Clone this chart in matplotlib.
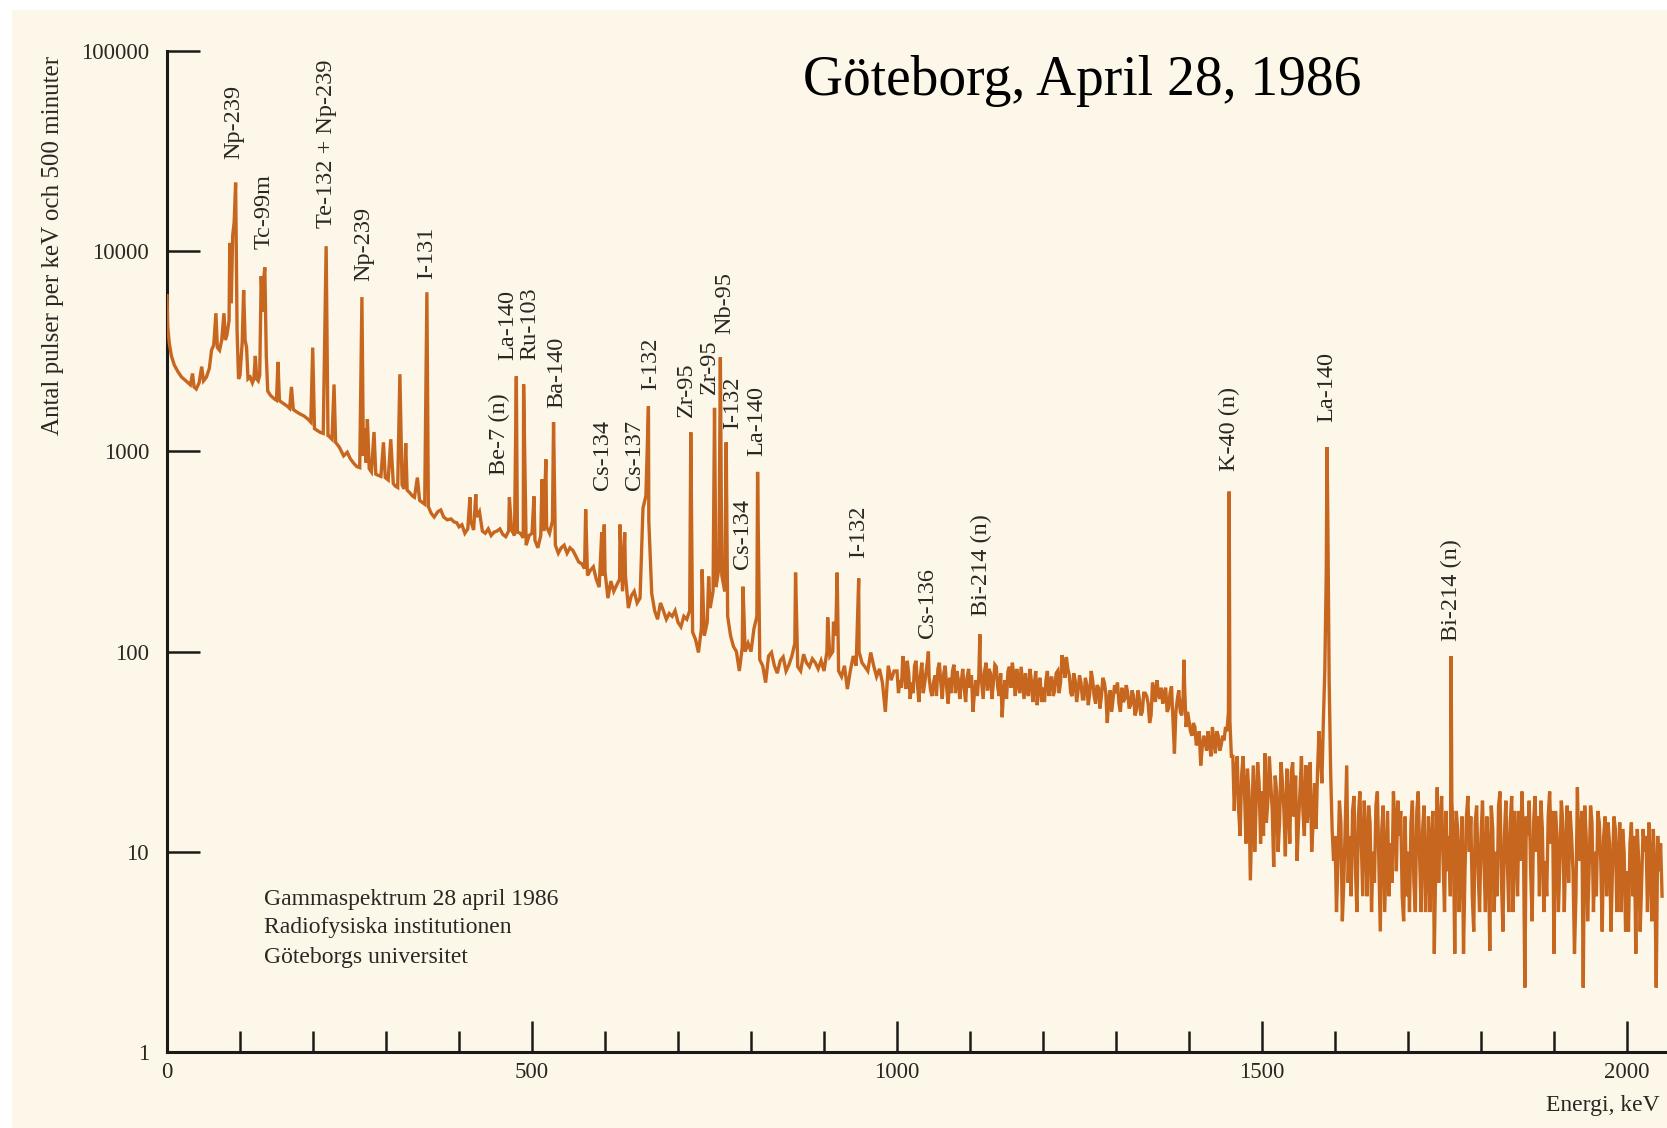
import numpy as np
import matplotlib
matplotlib.use("Agg")
import matplotlib.pyplot as plt
from matplotlib.ticker import NullLocator
from matplotlib.patches import Rectangle

plt.rcParams['font.family'] = ['Liberation Serif', 'DejaVu Serif']

# ---------------- data ----------------
# Low-energy part of the spectrum (keV, counts per keV), peaks included
low_kev = [0, 1, 3, 6, 10, 15, 20, 26, 32, 35, 37, 40, 44, 47.5, 50, 54, 58, 61, 64, 67,
           69, 72, 75, 78, 80, 82, 85, 86, 88, 90, 92, 94, 96, 98, 100, 103, 105, 107, 109, 111,
           114, 117, 119, 121, 123, 125, 127, 129, 131, 132, 134, 136, 138, 142, 147, 150, 152, 154, 156, 161,
           165, 168, 170.5, 173, 177, 182, 188, 193, 197, 199.6, 202, 206, 210, 214, 218, 220.5, 222, 226, 228.8, 231,
           236, 242, 247, 251, 256, 260, 264, 267, 269, 271, 272.5, 274.5, 277, 280, 283.6, 286, 289, 293, 296.5, 299,
           303, 306.5, 310, 313, 316, 319, 322, 325, 327, 329, 332, 336, 339, 343, 346, 350, 353, 356, 358, 362,
           366, 371, 375, 379, 384, 389, 393, 397]
low_counts = [6000, 4200, 3500, 3000, 2700, 2500, 2350, 2250, 2150, 2450, 2100, 2050, 2200, 2650, 2250, 2350, 2600, 3200, 3400, 4900,
              3300, 3200, 3600, 4900, 3600, 3800, 4500, 11000, 5500, 12000, 14000, 22000, 4000, 2300, 2400, 3500, 6400, 3600, 3300, 2300,
              2350, 2200, 2300, 3000, 2300, 2250, 2400, 7500, 5000, 7000, 8300, 3000, 2000, 1900, 1830, 1800, 2800, 1800, 1770, 1720,
              1680, 1640, 2100, 1620, 1580, 1540, 1500, 1450, 1400, 3300, 1300, 1270, 1245, 1230, 10600, 1200, 1190, 1150, 2160, 1110,
              1050, 950, 990, 920, 870, 840, 830, 5900, 950, 1300, 880, 1450, 820, 790, 1250, 770, 760, 750, 1110, 740,
              720, 1150, 690, 670, 660, 2430, 680, 650, 1100, 640, 625, 600, 590, 740, 570, 555, 545, 6240, 530, 490,
              470, 500, 510, 470, 455, 460, 445, 440]

# 400-2048 keV continuum on 4 keV channels (one row per 100 keV)
grid_start_kev = 400
grid_step_kev = 4
grid_counts = [
    420, 430, 390, 410, 450, 405, 470, 500, 400, 390, 410, 380, 395, 400, 410, 385, 375, 400, 405, 380, 395, 390, 370, 340, 380,
    390, 360, 330, 380, 400, 420, 390, 450, 340, 310, 330, 340, 310, 330, 320, 300, 280, 275, 260, 240, 255, 265, 230, 210, 240,
    250, 185, 225, 200, 215, 230, 200, 240, 165, 190, 200, 175, 185, 520, 600, 450, 195, 160, 145, 175, 160, 145, 155, 150, 160,
    140, 133, 150, 145, 160, 125, 115, 99, 130, 120, 140, 165, 200, 210, 260, 240, 200, 150, 120, 106, 100, 80, 105, 100, 110,
    100, 130, 150, 91, 85, 70, 95, 99, 85, 78, 90, 94, 80, 86, 95, 110, 84, 80, 97, 88, 84, 92, 88, 82, 90,
    80, 100, 95, 100, 120, 80, 75, 85, 65, 80, 95, 85, 100, 88, 84, 80, 99, 85, 75, 82, 70, 50, 85, 72, 80,
    80, 72, 95, 65, 78, 70, 85, 68, 76, 62, 80, 74, 60, 76, 82, 70, 78, 66, 74, 80, 62, 72, 70, 66, 74,
    66, 50, 72, 75, 70, 80, 64, 78, 70, 84, 60, 47, 72, 80, 66, 75, 82, 62, 70, 78, 60, 72, 68, 54, 74,
    66, 72, 60, 75, 64, 80, 70, 88, 94, 76, 60, 72, 64, 70, 58, 68, 62, 72, 55, 66, 60, 70, 44, 64, 58,
    62, 55, 66, 58, 62, 54, 60, 51, 58, 50, 62, 55, 48, 64, 72, 58, 55, 66, 52, 67, 31, 58, 50, 60, 42,
    45, 38, 42, 36, 27, 38, 32, 35, 42, 31, 38, 34, 36, 40, 45, 30, 26, 16, 24, 20, 26, 7.2, 27, 18, 22,
    20, 31, 18, 22, 8.4, 20, 14, 22, 9.5, 18, 25, 15, 9, 20, 16, 27, 18, 10, 22, 25, 30, 45, 250, 70, 13,
    12, 9, 14, 7, 27, 12, 16, 8, 15, 11, 18, 6, 14, 10, 17, 9, 13, 5, 16, 11, 20, 8, 12, 6, 15,
    10, 14, 7, 16, 9, 13, 5, 15, 11, 3.1, 21, 14, 9, 16, 12, 18, 3.1, 13, 9, 3.1, 15, 10, 6, 14, 8,
    12, 9, 15, 3.2, 13, 10, 17, 7, 12, 9, 14, 5, 11, 16, 20, 2.1, 12, 8, 14, 10, 6, 13, 9, 15, 11,
    3.1, 12, 9, 14, 10, 7, 12, 3.1, 21, 11, 2.1, 12, 8, 14, 10, 16, 9, 12, 6, 11, 8, 13, 9, 5, 10,
    8, 11, 6, 3.1, 9, 7, 10, 5, 9, 13, 2.1, 8, 6,
]

# 1002-2046 keV: the in-between channels of the noisy high-energy part
mid_start_kev = 1002
mid_counts = [
    62, 66, 80, 90, 58, 62, 90, 56, 88, 70, 92, 64, 70, 60, 88, 58, 85, 55, 62, 86, 80, 58, 82, 56, 82,
    76, 62, 60, 85, 58, 88, 82, 58, 86, 66, 78, 64, 58, 84, 88, 60, 70, 84, 58, 64, 82, 56, 80, 70, 56,
    56, 80, 72, 60, 78, 62, 96, 74, 82, 62, 78, 56, 76, 58, 74, 54, 80, 60, 68, 52, 74, 62, 58, 50, 68,
    70, 50, 56, 68, 52, 64, 48, 64, 48, 62, 60, 44, 70, 56, 62, 66, 62, 50, 62, 46, 50, 64, 48, 66, 50,
    40, 44, 34, 40, 33, 36, 40, 30, 36, 40, 32, 38, 42, 50, 30, 16, 30, 12, 30, 11, 20, 14, 10, 28, 11,
    12, 14, 30, 16, 24, 10, 28, 16, 26, 11, 28, 24, 14, 30, 12, 14, 28, 14, 13, 40, 22, 80, 500, 25, 9,
    5, 18, 4.5, 14, 7, 6, 19, 5, 20, 6, 12, 17, 5, 7, 20, 4, 17, 9, 6, 7, 14, 18, 16, 4.5, 6,
    5, 18, 5, 20, 5, 17, 8, 5, 16, 9, 7, 19, 5, 8, 6, 12, 16, 5, 15, 8, 19, 15, 4, 17, 5,
    18, 5, 10, 17, 5, 6, 20, 4, 18, 5, 19, 16, 6, 9, 12, 15, 18, 4.5, 19, 15, 18, 5, 6, 20, 16,
    16, 5, 18, 5, 17, 16, 8, 6, 9, 16, 17, 4.5, 17, 5, 6, 14, 4, 15, 14, 4, 15, 5, 14, 13, 4,
    4, 14, 12, 13, 4, 13, 12, 14, 4.5, 8, 12, 11,
]

# Peaks above 400 keV (keV, top counts)
peak_kev = [415, 423, 469, 478.5, 488.5, 502.7, 513.7, 519, 529.5, 573.5, 595.5, 599, 620.5, 627, 659.5,
            717.5, 733, 742, 750, 758, 766, 789, 809, 861, 905, 913, 918, 947.5, 1043, 1113.5, 1393,
            1455, 1589, 1759]
peak_counts = [590, 610, 590, 2370, 2160, 596, 725, 912, 1400, 513, 394, 431, 431, 394, 1680,
               1245, 257, 237, 1650, 2950, 1110, 211, 790, 248, 148, 141, 248, 232, 100, 122, 91,
               630, 1050, 95]

# Nuclide labels
label_text = ['Np-239', 'Tc-99m', 'Te-132 + Np-239', 'Np-239', 'I-131', 'Be-7 (n)', 'La-140', 'Ru-103',
              'Ba-140', 'Cs-134', 'Cs-137', 'I-132', 'Zr-95', 'Zr-95', 'Nb-95', 'I-132', 'La-140',
              'Cs-134', 'I-132', 'Cs-136', 'Bi-214 (n)', 'K-40 (n)', 'La-140', 'Bi-214 (n)']
label_kev = [92, 133, 219, 270, 355, 456, 467, 497, 534, 597, 641, 663, 712, 743, 764, 775, 808,
             788, 947, 1042, 1115, 1455, 1589, 1760]
label_counts = [28800, 10200, 13000, 7080, 7240, 760, 2850, 2850, 1640, 640, 640, 2020, 1480, 1930,
                3850, 1290, 945, 260, 295, 117, 150, 800, 1400, 113]

y_ticks = [1, 10, 100, 1000, 10000, 100000]
y_tick_labels = ['1', '10', '100', '1000', '10000', '100000']
x_major = [0, 500, 1000, 1500, 2000]
x_minor = [100, 200, 300, 400, 600, 700, 800, 900, 1100, 1200, 1300, 1400,
           1600, 1700, 1800, 1900]

# ---------------- assemble spectrum ----------------
grid_kev = grid_start_kev + grid_step_kev * np.arange(len(grid_counts))
mid_kev = mid_start_kev + grid_step_kev * np.arange(len(mid_counts))
all_kev = np.concatenate([low_kev, grid_kev, mid_kev, peak_kev])
all_counts = np.concatenate([low_counts, grid_counts, mid_counts, peak_counts])
order = np.argsort(all_kev, kind='stable')
spec_kev = all_kev[order]
spec_counts = all_counts[order]

# ---------------- figure ----------------
CREAM = '#FCF7E8'
LINE = '#C7671F'
INK = '#2a2622'
AXC = '#1c1a18'

W, H = 1667, 1128
fig = plt.figure(figsize=(W / 100, H / 100), dpi=100, facecolor='white')
fig.patches.append(Rectangle((12 / W, 0), 1, 1 - 10 / H, transform=fig.transFigure,
                             facecolor=CREAM, edgecolor='none', zorder=-10))

ax = fig.add_axes([167 / W, 76 / H, (1665 - 167) / W, (1077 - 76) / H])
ax.set_facecolor('none')
ax.set_yscale('log')
ax.set_xlim(0, 2052)
ax.set_ylim(1, 100000)

ax.plot(spec_kev, spec_counts, color=LINE, lw=2.4, solid_joinstyle='miter', zorder=3)

for s in ['top', 'right']:
    ax.spines[s].set_visible(False)
for s in ['left', 'bottom']:
    ax.spines[s].set_linewidth(2.2)
    ax.spines[s].set_color(AXC)

ax.set_yticks(y_ticks)
ax.set_yticklabels(y_tick_labels)
ax.yaxis.set_minor_locator(NullLocator())
ax.set_xticks(x_major)
ax.set_xticks(x_minor, minor=True)
ax.set_xticklabels([str(v) for v in x_major])

ax.tick_params(axis='y', which='major', direction='in', length=24, width=1.8,
               pad=13, labelsize=16.5, colors=AXC, labelcolor=INK)
ax.tick_params(axis='x', which='major', direction='in', length=22, width=1.8,
               pad=7, labelsize=16.5, colors=AXC, labelcolor=INK)
ax.tick_params(axis='x', which='minor', direction='in', length=15, width=1.8,
               colors=AXC)

for t, xk, yc in zip(label_text, label_kev, label_counts):
    ax.text(xk, yc, t, rotation=90, ha='center', va='bottom', fontsize=17.5, color=INK, zorder=4)

fig.text(53 / W, 1 - 245 / H, 'Antal pulser per keV och 500 minuter', rotation=90,
         ha='center', va='center', fontsize=18, color=INK)
fig.text(1660 / W, 1 - 1105 / H, 'Energi, keV', ha='right', va='center', fontsize=17, color=INK)

for i, line in enumerate(['Gammaspektrum 28 april 1986', 'Radiofysiska institutionen',
                          'Göteborgs universitet']):
    fig.text(264 / W, 1 - (899 + 29 * i) / H, line, ha='left', va='center', fontsize=17, color=INK)

fig.text(803 / W, 1 - 81 / H, 'Göteborg, April 28, 1986', ha='left', va='center',
         fontsize=40, color='black')

fig.savefig('out.png', dpi=100, facecolor=fig.get_facecolor())
